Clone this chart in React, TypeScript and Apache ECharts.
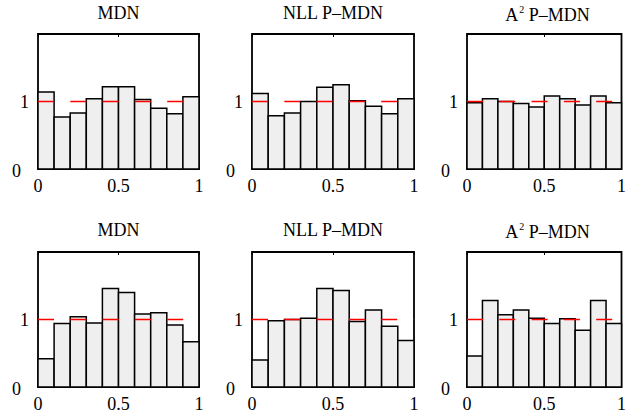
import React, { useEffect, useRef } from "react";
import * as echarts from "echarts";

const binStarts = [0, 0.1, 0.2, 0.3, 0.4, 0.5, 0.6, 0.7, 0.8, 0.9];
const binEnds = [0.1, 0.2, 0.3, 0.4, 0.5, 0.6, 0.7, 0.8, 0.9, 1.0];

const titles = ["MDN", "NLL P\u2013MDN", "A2", "MDN", "NLL P\u2013MDN", "A2"];

const mdnTop = [1.14, 0.77, 0.83, 1.04, 1.22, 1.22, 1.03, 0.9, 0.82, 1.07];
const nllTop = [1.12, 0.79, 0.83, 1.0, 1.21, 1.25, 1.01, 0.93, 0.82, 1.04];
const a2Top = [0.98, 1.04, 1.0, 0.97, 0.92, 1.08, 1.04, 0.95, 1.08, 0.98];
const mdnBottom = [0.42, 0.94, 1.04, 0.95, 1.46, 1.4, 1.08, 1.1, 0.92, 0.67];
const nllBottom = [0.4, 0.98, 1.0, 1.02, 1.46, 1.43, 0.97, 1.14, 0.9, 0.69];
const a2Bottom = [0.46, 1.28, 1.07, 1.14, 1.02, 0.94, 1.01, 0.84, 1.28, 0.94];

const panelValues = [mdnTop, nllTop, a2Top, mdnBottom, nllBottom, a2Bottom];
const referenceLevel = 1;

const FONT = "'Liberation Serif', 'Times New Roman', serif";

export default function App() {
  const ref = useRef<HTMLDivElement>(null);
  useEffect(() => {
    if (!ref.current) return;
    const chart = echarts.init(ref.current, null, { renderer: "svg" });
    const lefts = [38, 252, 467];
    const widths = [161, 162, 161];
    const tops = [34, 252];
    const H = 135;
    const grids: any[] = [];
    const xAxes: any[] = [];
    const yAxes: any[] = [];
    const series: any[] = [];
    const graphics: any[] = [];
    for (let i = 0; i < 6; i++) {
      const r = Math.floor(i / 3);
      const c = i % 3;
      grids.push({
        left: lefts[c],
        top: tops[r],
        width: widths[c],
        height: H,
        show: true,
        borderColor: "#000",
        borderWidth: 1.8,
        backgroundColor: "transparent",
      });
      xAxes.push({
        type: "value",
        gridIndex: i,
        min: 0,
        max: 1,
        interval: 0.5,
        position: "bottom",
        axisLine: { show: false },
        axisTick: { show: true, inside: true, length: 3, lineStyle: { color: "#000" } },
        splitLine: { show: false },
        axisLabel: {
          margin: 8,
          color: "#000",
          fontSize: 18,
          fontFamily: FONT,
          formatter: (v: number) => (v === 0 ? "0" : v === 1 ? "1" : String(v)),
        },
      });
      xAxes.push({
        type: "value",
        gridIndex: i,
        min: 0,
        max: 1,
        interval: 0.5,
        position: "top",
        axisLine: { show: false },
        axisTick: { show: true, inside: true, length: 3, lineStyle: { color: "#000" } },
        splitLine: { show: false },
        axisLabel: { show: false },
      });
      yAxes.push({
        type: "value",
        gridIndex: i,
        min: 0,
        max: 2,
        interval: 1,
        axisLine: { show: false },
        axisTick: { show: false },
        splitLine: { show: false },
        axisLabel: {
          margin: 9,
          color: "#000",
          fontSize: 18,
          fontFamily: FONT,
          formatter: (v: number) => (v === 0 ? "{z|0}" : v === 1 ? "1" : ""),
          rich: {
            z: { fontSize: 18, fontFamily: FONT, color: "#000", padding: [4, 8, 0, 0] },
          },
        },
      });
      const data = binStarts.map((s, k) => [s, binEnds[k], panelValues[i][k]]);
      series.push({
        type: "custom",
        xAxisIndex: 2 * i,
        yAxisIndex: i,
        z: 2,
        encode: { x: [0, 1], y: 2 },
        data,
        renderItem: (params: any, api: any) => {
          const x0 = api.value(0);
          const x1 = api.value(1);
          const v = api.value(2);
          const p0 = api.coord([x0, v]);
          const p1 = api.coord([x1, 0]);
          return {
            type: "rect",
            shape: { x: p0[0], y: p0[1], width: p1[0] - p0[0], height: p1[1] - p0[1] },
            style: { fill: "#efefef", stroke: "#000", lineWidth: 1.5 },
          };
        },
      });
      series.push({
        type: "line",
        xAxisIndex: 2 * i,
        yAxisIndex: i,
        z: 3,
        symbol: "none",
        silent: true,
        data: [
          [0, referenceLevel],
          [1, referenceLevel],
        ],
        lineStyle: { color: "#ff0000", width: 1.6, type: [16, 16.3], opacity: 1 },
        emphasis: { disabled: true },
      });
      const cx = lefts[c] + widths[c] / 2;
      const ty = r === 0 ? 4 : 221;
      const isA2 = titles[i] === "A2";
      graphics.push({
        type: "text",
        x: cx,
        y: ty,
        style: {
          text: isA2 ? "{n|A}{s|2}{n| P\u2013MDN}" : titles[i],
          fill: "#000",
          font: `18px ${FONT}`,
          align: "center",
          verticalAlign: "top",
          rich: isA2
            ? {
                n: { fontSize: 18, fontFamily: FONT, fill: "#000", lineHeight: 22 },
                s: { fontSize: 10, fontFamily: FONT, fill: "#000", verticalAlign: "top", lineHeight: 10, padding: [0, 0, 0, 1] },
              }
            : undefined,
        },
      });
    }
    chart.setOption({
      animation: false,
      backgroundColor: "#fff",
      grid: grids,
      xAxis: xAxes,
      yAxis: yAxes,
      series,
      graphic: graphics,
    });
    return () => chart.dispose();
  }, []);
  return (
    <div
      ref={ref}
      style={{ position: "fixed", left: 0, top: 0, width: 629, height: 418, background: "#fff" }}
    />
  );
}
